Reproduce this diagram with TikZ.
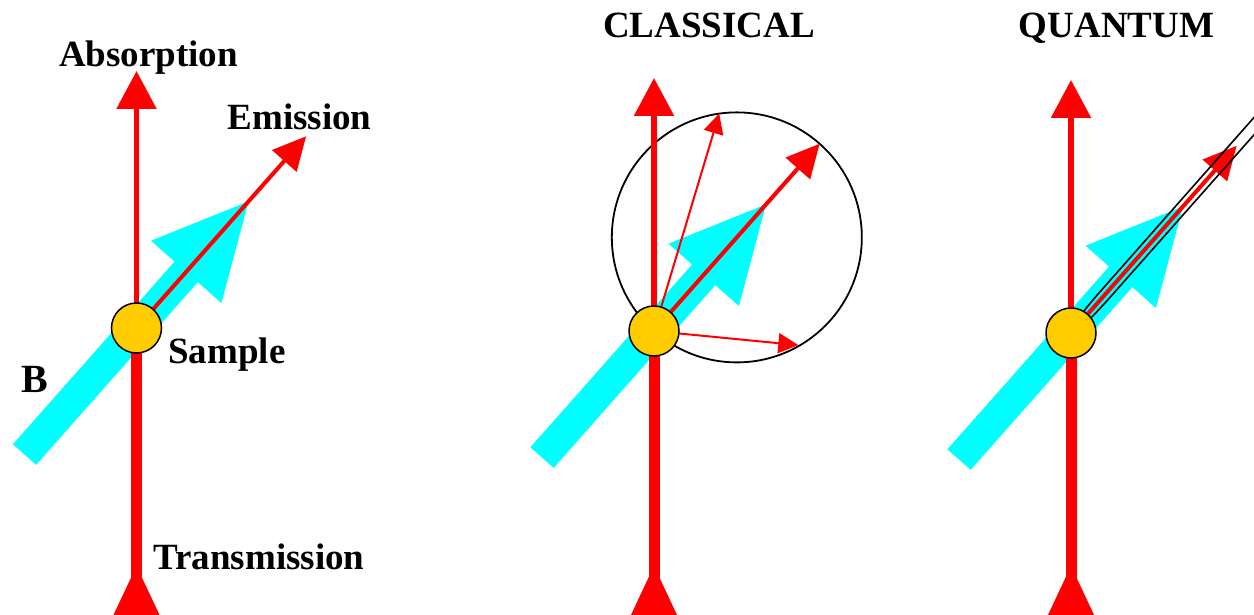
\documentclass[tikz,border=0pt]{standalone}
\usepackage{fontspec}
\setmainfont{Liberation Serif}
\usepackage{tikz}
\usetikzlibrary{arrows.meta}
\definecolor{beamred}{RGB}{255,0,0}
\definecolor{fieldcyan}{RGB}{0,255,255}
\definecolor{samplegold}{RGB}{255,204,0}

\begin{document}
\begin{tikzpicture}[x=1pt, y=1pt,
  lbl/.style={font=\fontsize{37}{44}\selectfont\bfseries, inner sep=0pt, anchor=base},
  absorb/.style={beamred, line width=5.5pt, -{Triangle[length=38pt, width=39pt]}},
  trans/.style={beamred, line width=11pt},
  emit/.style={beamred, line width=4pt, -{Triangle[length=33pt, width=32pt]}},
  thinemit/.style={beamred, line width=2pt, -{Triangle[length=20pt, width=20pt]}},
  orbit/.style={black, line width=1.8pt},
  lobe/.style={black, line width=1.6pt},
  bfield/.style={fill=fieldcyan},
  sample/.style={circle, draw=black, line width=1.5pt, fill=samplegold, minimum size=50pt, inner sep=0pt}]

\useasboundingbox (0,0) rectangle (1254,-615);
\clip (0,0) rectangle (1254,-615);

% ---------------- Panel 1: the set-up ----------------
\begin{scope}[shift={(136.5,-328)}]
\coordinate (c1) at (0,0);
\coordinate (abs1) at (0,257);
\coordinate (tr1) at (0,-250);
\coordinate (em1) at (48.5:256);

\begin{scope}[rotate=48.5]
\fill[bfield] (-169,15.5) -- (75,15.5) -- (75,47) -- (169,0) -- (75,-47) -- (75,-15.5) -- (-169,-15.5) -- cycle;
\end{scope}

\draw[trans] (c1) -- (tr1);
\fill[beamred] (0,-238) -- (-25.4,-292) -- (25.4,-292) -- cycle;
\draw[absorb] (c1) -- (abs1);
\draw[emit] (c1) -- (em1);
\node[sample] (s1) at (c1) {};

\node[lbl] (absl) at (12,261) {Absorption};
\node[lbl] (eml) at (163,198.5) {Emission};
\node[lbl] (sl) at (90.5,-35) {Sample};
\node[lbl, font=\fontsize{40}{48}\selectfont\bfseries] (bl) at (-101.5,-64.5) {B};
\node[lbl] (trl) at (122.5,-241) {Transmission};
\end{scope}

% ---------------- Panel 2: classical ----------------
\begin{scope}[shift={(654,-331)}]
\coordinate (c2) at (0,0);
\coordinate (abs2) at (0,253);
\coordinate (tr2) at (0,-247);
\coordinate (em2) at (48.5:250);
\coordinate (up2) at (73.3:227);
\coordinate (side2) at (-5.6:145);

\begin{scope}[rotate=48.5]
\fill[bfield] (-169,15.5) -- (75,15.5) -- (75,47) -- (169,0) -- (75,-47) -- (75,-15.5) -- (-169,-15.5) -- cycle;
\end{scope}

\draw[orbit] (48.5:125) circle[radius=125];
\draw[trans] (c2) -- (tr2);
\fill[beamred] (0,-235) -- (-25.4,-289) -- (25.4,-289) -- cycle;
\draw[absorb] (c2) -- (abs2);
\draw[thinemit] (c2) -- (up2);
\draw[thinemit] (c2) -- (side2);
\draw[emit] (c2) -- (em2);
\node[sample] (s2) at (c2) {};

\node[lbl] (clal) at (55,293.7) {CLASSICAL};
\end{scope}

% ---------------- Panel 3: quantum ----------------
\begin{scope}[shift={(1071,-333)}]
\coordinate (c3) at (0,0);
\coordinate (abs3) at (0,253);
\coordinate (tr3) at (0,-245);
\coordinate (em3) at (48.5:250);

\begin{scope}[rotate=48.5]
\fill[bfield] (-169,15.5) -- (75,15.5) -- (75,47) -- (169,0) -- (75,-47) -- (75,-15.5) -- (-169,-15.5) -- cycle;
\end{scope}

\draw[trans] (c3) -- (tr3);
\fill[beamred] (0,-233) -- (-25.4,-287) -- (25.4,-287) -- cycle;
\draw[absorb] (c3) -- (abs3);
\draw[emit] (c3) -- (em3);

% narrow lobe
\begin{scope}[rotate=48.5]
\draw[lobe] (0,0) .. controls (15,5.4) and (30,5.6) .. (60,5.6) -- (340,5.8);
\draw[lobe] (0,0) .. controls (15,-5.4) and (30,-5.6) .. (60,-5.6) -- (340,-5.8);
\end{scope}
\node[sample] (s3) at (c3) {};

\node[lbl] (qual) at (45.5,295.7) {QUANTUM};
\end{scope}

\end{tikzpicture}
\end{document}
